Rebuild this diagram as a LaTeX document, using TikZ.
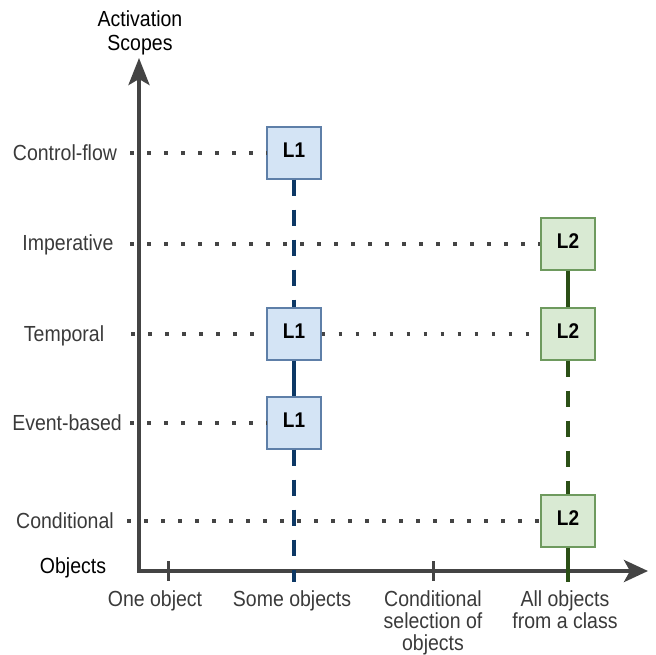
\documentclass[tikz,border=0pt]{standalone}
\usepackage{graphicx}
\usepackage{fontspec}
\setmainfont{Liberation Sans}
\usetikzlibrary{arrows.meta}
\definecolor{axisc}{HTML}{444444}
\definecolor{dotc}{HTML}{444444}
\definecolor{lblc}{HTML}{3A3A3A}
\definecolor{bluefill}{HTML}{D4E4F5}
\definecolor{blueedge}{HTML}{5E7FA8}
\definecolor{blueline}{HTML}{0D3865}
\definecolor{greenfill}{HTML}{D9EAD3}
\definecolor{greenedge}{HTML}{6E9A5E}
\definecolor{greenline}{HTML}{2B4F16}
\newcommand{\vst}[1]{\scalebox{1}[1.12]{\begin{tabular}{@{}c@{}}#1\end{tabular}}}
\tikzset{
  lbl/.style={font=\fontsize{19.5}{19.6}\selectfont, text=lblc, inner sep=0pt},
  ttl/.style={font=\fontsize{19.5}{21}\selectfont, text=black, inner sep=0pt},
  xlbl/.style={font=\fontsize{19.5}{19.6}\selectfont, text=lblc, inner sep=0pt, anchor=north},
  boxa/.style={draw=blueedge, fill=bluefill, line width=1.3pt, minimum width=54pt, minimum height=52pt, inner sep=0pt, font=\fontsize{19}{20}\selectfont\bfseries},
  boxb/.style={draw=greenedge, fill=greenfill, line width=1.3pt, minimum width=54pt, minimum height=52pt, inner sep=0pt, font=\fontsize{19}{20}\selectfont\bfseries},
  axisln/.style={draw=axisc, line width=4pt},
  tickln/.style={draw=axisc, line width=3pt},
  dotln/.style={draw=dotc, line width=3.5pt, dash pattern=on 3.5pt off 13.5pt},
  bsolid/.style={draw=blueline, line width=3.2pt},
  bdash/.style={draw=blueline, line width=3.2pt, dash pattern=on 16pt off 14pt},
  gsolid/.style={draw=greenline, line width=3.2pt},
  gdash/.style={draw=greenline, line width=3.2pt, dash pattern=on 16pt off 14pt},
}
\begin{document}
\begin{tikzpicture}[x=1pt,y=-1pt]
\useasboundingbox (0,0) rectangle (656,654);
% titles
\node[ttl, anchor=north] (ytitle) at (140,10) {\vst{Activation\\Scopes}};
\node[ttl, anchor=center] (xtitle) at (73,569) {\vst{Objects}};
% row labels
\node[lbl] (cf) at (65,156) {\vst{Control-flow}};
\node[lbl] (imp) at (68,246) {\vst{Imperative}};
\node[lbl] (tmp) at (64,337) {\vst{Temporal}};
\node[lbl] (evb) at (67,426) {\vst{Event-based}};
\node[lbl] (cnd) at (65,524) {\vst{Conditional}};
% axis coordinates
\coordinate (O) at (139,571);
\coordinate (ytip) at (139,58);
\coordinate (xtip) at (648,571);
\draw[axisln, line join=miter, {Stealth[length=27pt,width=21pt,inset=6pt]}-{Stealth[length=24pt,width=22pt,inset=6pt]}] (ytip) -- (O) -- (xtip);
% ticks
\coordinate (t1a) at (168,561); \coordinate (t1b) at (168,581);
\coordinate (t3a) at (433,561); \coordinate (t3b) at (433,581);
\draw[tickln] (t1a) -- (t1b);
\draw[tickln] (t3a) -- (t3b);
% x labels
\node[xlbl] (x1) at (155,590) {\vst{One object}};
\node[xlbl] (x2) at (292,590) {\vst{Some objects}};
\node[xlbl] (x3) at (433,590) {\vst{Conditional\\selection of\\objects}};
\node[xlbl] (x4) at (565,590) {\vst{All objects\\from a class}};
% boxes
\node[boxa] (b1) at (294,153) {\vst{L1}};
\node[boxa] (b2) at (294,334) {\vst{L1}};
\node[boxa] (b3) at (294,423) {\vst{L1}};
\node[boxb] (g1) at (568,244) {\vst{L2}};
\node[boxb] (g2) at (568,334) {\vst{L2}};
\node[boxb] (g3) at (568,521) {\vst{L2}};
% dotted lines
\coordinate (d1) at (130,153);
\coordinate (d2) at (130,244);
\coordinate (d3) at (131,334);
\coordinate (d4) at (130,423);
\coordinate (d5) at (127,521);
\draw[dotln] (d1) -- (b1.west);
\draw[dotln] (d2) -- (g1.west);
\draw[dotln] (d3) -- (b2.west);
\draw[dotln] (b2.east) -- (g2.west);
\draw[dotln] (d4) -- (b3.west);
\draw[dotln] (d5) -- (g3.west);
% verticals
\coordinate (bend) at (294,582);
\coordinate (gend) at (568,582);
\draw[bdash] (b1.south) -- (b2.north);
\draw[bsolid] (b2.south) -- (b3.north);
\draw[bdash] (b3.south) -- (bend);
\draw[gsolid] (g1.south) -- (g2.north);
\draw[gdash] (g2.south) -- (g3.north);
\draw[gsolid] (g3.south) -- (gend);
\end{tikzpicture}
\end{document}
